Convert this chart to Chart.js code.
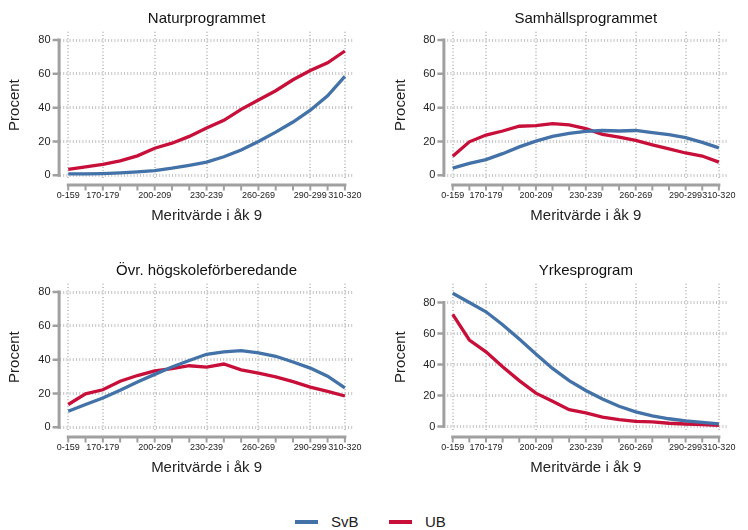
<!DOCTYPE html>
<html>
<head>
<meta charset="utf-8">
<script src="https://cdn.jsdelivr.net/npm/chart.js@4.4.1/dist/chart.umd.min.js"></script>
<style>
    body { margin: 0; background: #fff; }
    #wrap { position: relative; width: 748px; height: 530px; font-family: 'Liberation Sans', Arial, sans-serif; }
    .panel { position: absolute; width: 374px; height: 250px; }
    .key { position: absolute; top: 512px; height: 20px; line-height: 20px; font-size: 15px; color: #222; }
    .key i { position: absolute; top: 8px; width: 23px; height: 3.5px; }
</style>
</head>
<body>
<div id="wrap">
    <div class="panel" style="left:0;top:0"><canvas id="natur" width="374" height="250"></canvas></div>
    <div class="panel" style="left:374px;top:0"><canvas id="samhall" width="374" height="250"></canvas></div>
    <div class="panel" style="left:0;top:252px"><canvas id="ovr" width="374" height="250"></canvas></div>
    <div class="panel" style="left:374px;top:252px"><canvas id="yrke" width="374" height="250"></canvas></div>
    <div class="key" style="left:295px"><i style="left:0;background:#4272a8"></i><span style="margin-left:36px">SvB</span></div>
    <div class="key" style="left:389px"><i style="left:0;background:#c70f3a"></i><span style="margin-left:36px">UB</span></div>
</div>
<script>
// Merit value bands (grade 9)
const categories = ['0-159', '160-169', '170-179', '180-189', '190-199', '200-209', '210-219', '220-229',
    '230-239', '240-249', '250-259', '260-269', '270-279', '280-289', '290-299', '300-309', '310-320'];
const shownLabels = ['0-159', '170-179', '200-209', '230-239', '260-269', '290-299', '310-320'];
const yTicks = [0, 20, 40, 60, 80];

// Share (%) per programme, SvB vs UB
const naturSvB = [0.8, 0.8, 1.0, 1.4, 2.0, 2.8, 4.2, 5.9, 7.8, 11, 15, 20, 25.5, 31.5, 38.5, 47, 58.5];
const naturUB = [3.5, 5, 6.5, 8.5, 11.5, 16, 19, 23, 28, 32.5, 39, 44.5, 50, 56.5, 62, 66.5, 73.5];
const samhallSvB = [4.2, 7, 9.3, 12.8, 16.8, 20.2, 23, 24.8, 26, 26.5, 26.2, 26.5, 25.3, 24, 22.3, 19.5, 16.2];
const samhallUB = [11.2, 19.8, 23.8, 26.2, 29, 29.4, 30.6, 29.8, 27.6, 24.2, 22.6, 20.6, 18, 15.6, 13.2, 11.4, 7.8];
const ovrSvB = [9.5, 13.5, 17.3, 21.9, 26.8, 31.3, 35.7, 39.5, 43.2, 44.6, 45.3, 44, 42, 38.6, 35, 30.2, 23.3];
const ovrUB = [13.5, 19.8, 22.2, 27.2, 30.6, 33.4, 34.7, 36.4, 35.6, 37.4, 34, 32, 29.8, 27, 23.8, 21.2, 18.5];
const yrkeSvB = [86, 80, 74, 65.7, 56.4, 46.8, 37.5, 29.6, 23.2, 17.8, 13.1, 9.4, 6.9, 5, 3.6, 2.6, 1.7];
const yrkeUB = [72.3, 55.8, 48.2, 38.6, 29.6, 21.5, 16.3, 10.9, 8.8, 6, 4.5, 3.3, 3, 2.1, 1.6, 1.2, 0.8];

const blue = '#4272a8';
const red = '#c70f3a';
const axisGray = '#a0a0a0';
const gridGray = '#c4c4c4';
const fontFamily = "'Liberation Sans', Arial, sans-serif";

Chart.defaults.font.family = fontFamily;
Chart.defaults.color = '#222';

// Stata-style range frame: axis lines only span the labelled range, set off from the plot
const rangeFrame = {
    id: 'rangeFrame',
    afterDraw(chart) {
        const { ctx, chartArea, scales: { x, y } } = chart;
        ctx.save();
        ctx.strokeStyle = axisGray;

        const ax = chartArea.left - 0.5;
        const yTop = y.getPixelForValue(yTicks[yTicks.length - 1]);
        const yBot = y.getPixelForValue(yTicks[0]);
        ctx.lineWidth = 3;
        ctx.beginPath();
        ctx.moveTo(ax, yTop - 1.5);
        ctx.lineTo(ax, yBot + 1.5);
        ctx.stroke();
        ctx.lineWidth = 2.5;
        ctx.beginPath();
        yTicks.forEach(v => {
            const py = y.getPixelForValue(v);
            ctx.moveTo(ax, py);
            ctx.lineTo(ax - 6.5, py);
        });
        ctx.stroke();

        const ay = chartArea.bottom + 6.5;
        const x0 = x.getPixelForValue(0);
        const x1 = x.getPixelForValue(categories.length - 1);
        ctx.lineWidth = 3;
        ctx.beginPath();
        ctx.moveTo(x0 - 1.5, ay);
        ctx.lineTo(x1 + 1.5, ay);
        ctx.stroke();
        ctx.lineWidth = 2;
        ctx.beginPath();
        categories.forEach((c, i) => {
            const px = x.getPixelForValue(i);
            ctx.moveTo(px, ay);
            ctx.lineTo(px, ay + 5.5);
        });
        ctx.stroke();
        ctx.restore();
    }
};

function makePanel(id, title, svb, ub, opt) {
    new Chart(document.getElementById(id), {
        type: 'line',
        data: {
            labels: categories,
            datasets: [
                { label: 'SvB', data: svb, borderColor: blue, borderWidth: 3.3, pointRadius: 0, tension: 0 },
                { label: 'UB', data: ub, borderColor: red, borderWidth: 3.3, pointRadius: 0, tension: 0 }
            ]
        },
        options: {
            responsive: false,
            animation: false,
            layout: { padding: { left: opt.padLeft, right: opt.padRight, top: 0, bottom: 25 } },
            plugins: {
                legend: { display: false },
                tooltip: { enabled: false },
                title: {
                    display: true,
                    text: title,
                    fullSize: false,
                    color: '#111',
                    font: { size: 15, weight: 'normal' },
                    padding: { top: 9.8, bottom: 3.9 }
                }
            },
            scales: {
                x: {
                    type: 'category',
                    offset: true,
                    afterFit: s => { s.height = 46.5; },
                    grid: {
                        offset: false,
                        drawTicks: false,
                        lineWidth: 2,
                        color: c => shownLabels.includes(categories[c.index]) ? gridGray : 'rgba(0,0,0,0)'
                    },
                    border: { display: false, dash: [1, 2.3] },
                    ticks: {
                        autoSkip: false,
                        maxRotation: 0,
                        padding: 12,
                        color: '#222',
                        font: { size: 9 },
                        callback: (v, i) => shownLabels.includes(categories[i]) ? categories[i] : ''
                    },
                    title: {
                        display: true,
                        text: 'Meritvärde i åk 9',
                        color: '#222',
                        font: { size: 15 },
                        padding: 0
                    }
                },
                y: {
                    min: opt.yMin,
                    max: opt.yMax,
                    afterBuildTicks: s => { s.ticks = yTicks.map(v => ({ value: v })); },
                    afterFit: s => { s.width = opt.yWidth; },
                    grid: { drawTicks: false, lineWidth: 3, color: gridGray },
                    border: { display: false, dash: [1, 2.2] },
                    ticks: { padding: 9, color: '#222', font: { size: 11 } },
                    title: {
                        display: true,
                        text: 'Procent',
                        color: '#222',
                        font: { size: 15 },
                        padding: 0
                    }
                }
            }
        },
        plugins: [rangeFrame]
    });
}

const leftCol = { padLeft: 6.3, padRight: 19.3, yWidth: 53.3 };
const rightCol = { padLeft: 18, padRight: 8.6, yWidth: 52.4 };
const shortRange = { yMin: -1.89, yMax: 84.91 };

makePanel('natur', 'Naturprogrammet', naturSvB, naturUB, { ...leftCol, ...shortRange });
makePanel('samhall', 'Samhällsprogrammet', samhallSvB, samhallUB, { ...rightCol, ...shortRange });
makePanel('ovr', 'Övr. högskoleförberedande', ovrSvB, ovrUB, { ...leftCol, ...shortRange });
makePanel('yrke', 'Yrkesprogram', yrkeSvB, yrkeUB, { ...rightCol, yMin: -2.58, yMax: 92.13 });
</script>
</body>
</html>
